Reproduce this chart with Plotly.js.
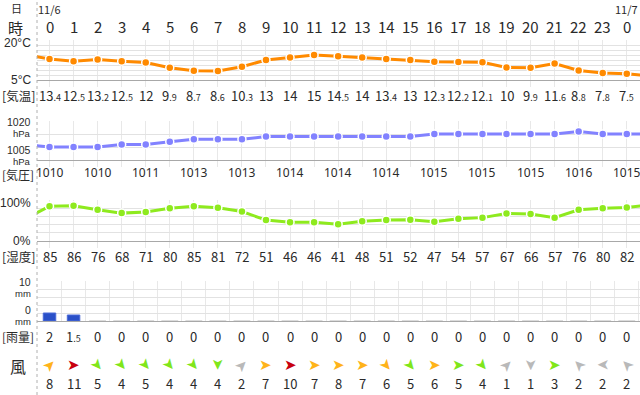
<!DOCTYPE html>
<html><head><meta charset="utf-8">
<script src="https://cdn.plot.ly/plotly-3.0.1.min.js"></script>
<style>html,body{margin:0;padding:0;background:#fff;}#c{width:640px;height:395px;}</style>
</head><body><div id="c"></div>
<script>
// ---- data ----
const hours = [0,1,2,3,4,5,6,7,8,9,10,11,12,13,14,15,16,17,18,19,20,21,22,23,24];
const hourLabels = ['0','1','2','3','4','5','6','7','8','9','10','11','12','13','14','15','16','17','18','19','20','21','22','23','0'];
const dateLabels = ['11/6','11/7'];
const dateHours = [0,24];
const temp = [13.4,12.5,13.2,12.5,12,9.9,8.7,8.6,10.3,13,14,15,14.5,14,13.4,13,12.3,12.2,12.1,10,9.9,11.6,8.8,7.8,7.5];
const tempBefore = 15.1, tempAfter = 6.6;
const pressure = [1010,1010,1010,1011,1011,1012,1013,1013,1013,1014,1014,1014,1014,1014,1014,1014,1015,1015,1015,1015,1015,1015,1016,1015,1015];
const pressureBefore = 1011, pressureAfter = 1015;
const pressureLabelHours = [0,2,4,6,8,10,12,14,16,18,20,22,24];
const pressureLabels = ['1010','1010','1011','1013','1013','1014','1014','1014','1015','1015','1015','1016','1015'];
const humidity = [85,86,76,68,71,80,85,81,72,51,46,46,41,48,51,52,47,54,57,67,66,57,76,80,82];
const humidityBefore = 54, humidityAfter = 88;
const rain = [2,1.5,0,0,0,0,0,0,0,0,0,0,0,0,0,0,0,0,0,0,0,0,0,0,0];
const windSpeed = [8,11,5,4,5,4,4,4,2,7,10,7,8,7,6,5,6,5,4,1,1,3,2,2,2];
const windDir = [45,90,140,140,140,140,140,180,45,90,90,90,90,90,140,140,90,90,140,45,180,90,315,270,315];

// ---- helpers ----
const W = 640, H = 395;
const px = x => x / W;
const py = y => 1 - y / H;
const dom = (top, bot) => [py(bot), py(top)];
const FONT = '"Noto Sans CJK JP", "Noto Sans", sans-serif';
const NUMFONT = '"Liberation Sans", Arial, sans-serif';
const TXT = '#2a2a2a';
function fmt(v){
  const s = String(v);
  if (s.indexOf('.') >= 0){ const p = s.split('.'); return p[0] + '<span style="font-size:9px">.' + p[1] + '</span>'; }
  return s;
}
function windColor(s){
  if (s >= 10) return '#c8000f';
  if (s >= 6) return '#ffb31a';
  if (s >= 3) return '#80e61a';
  return '#b9b9b9';
}
const extHours = [-1].concat(hours, [25]);

const traces = [
  {x: extHours, y: [tempBefore].concat(temp, [tempAfter]), xaxis:'x', yaxis:'y', mode:'lines+markers',
   line:{color:'#ff8a00', width:3}, marker:{size:8, color:'#ff8a00', line:{color:'#fff', width:1.5}}},
  {x: extHours, y: [pressureBefore].concat(pressure, [pressureAfter]), xaxis:'x2', yaxis:'y2', mode:'lines+markers',
   line:{color:'#8282ff', width:3}, marker:{size:8, color:'#8282ff', line:{color:'#fff', width:1.5}}},
  {x: extHours, y: [humidityBefore].concat(humidity, [humidityAfter]), xaxis:'x3', yaxis:'y3', mode:'lines+markers',
   line:{color:'#8eea1e', width:3}, marker:{size:8, color:'#8eea1e', line:{color:'#fff', width:1.5}}},
  {x: hours, y: rain, xaxis:'x4', yaxis:'y4', type:'bar', width:0.52,
   marker:{color:'#2a50c8', line:{color:'#4a6ad8', width:1}}},
  {x: hours.filter((h,i)=>rain[i]===0), y: rain.filter(r=>r===0), xaxis:'x4', yaxis:'y4', mode:'markers', cliponaxis:false,
   marker:{symbol:'line-ew', size:12, line:{color:'#dcdcdc', width:2}}}
];

const xbase = {range:[-0.52, 24.55], domain:[px(37), 1], showticklabels:false, showgrid:true, gridcolor:'#e8e8e8', gridwidth:1,
  tickmode:'linear', tick0:0, dtick:1, ticks:'outside', ticklen:6, tickcolor:'#e8e8e8', showline:true, linecolor:'#a8a8a8', linewidth:1.2, zeroline:false, fixedrange:true};
const ybase = {showticklabels:false, showgrid:true, gridcolor:'#e2e2e2', gridwidth:1, zeroline:false, ticks:'', fixedrange:true, showline:false};

const layout = {
  width: W, height: H, margin:{l:0,r:0,t:0,b:0}, paper_bgcolor:'#fff', plot_bgcolor:'#fff', showlegend:false,
  font:{family:FONT, color:TXT},
  xaxis: Object.assign({}, xbase, {anchor:'y'}),
  xaxis2: Object.assign({}, xbase, {anchor:'y2'}),
  xaxis3: Object.assign({}, xbase, {anchor:'y3'}),
  xaxis4: Object.assign({}, xbase, {anchor:'y4', tick0:0.5, ticklen:0}),
  yaxis: Object.assign({}, ybase, {domain: dom(40,80), range:[5,21], tick0:5, dtick:2}),
  yaxis2: Object.assign({}, ybase, {domain: dom(121,160), range:[1005,1020], tick0:1005, dtick:5}),
  yaxis3: Object.assign({}, ybase, {domain: dom(200,241), range:[0,100], tick0:0, dtick:20}),
  yaxis4: Object.assign({}, ybase, {domain: dom(281,321), range:[0,10], tick0:0, dtick:2}),
  shapes: [
    {type:'line', xref:'paper', yref:'paper', x0:px(37), x1:px(37), y0:0, y1:1, line:{color:'#b0b0b0', width:1, dash:'dot'}}
  ],
  annotations: []
};
const A = layout.annotations;
function lab(text, x, y, size, anchor, fam){
  A.push({text:text, xref:'paper', yref:'paper', x:px(x), y:py(y), xanchor:anchor||'center', yanchor:'middle', showarrow:false,
    font:{size:size, color:TXT, family:fam||FONT}});
}
// left labels
lab('日', 16, 8, 11);
lab('時', 15, 27, 15);
lab('20°C', 33, 43, 12, 'right', NUMFONT);
lab('5°C', 33, 80, 12, 'right', NUMFONT);
lab('[気温]', 18, 96, 12.5);
lab('1020', 33, 121.7, 10.5, 'right', NUMFONT);
lab('hPa', 33, 133.3, 9.5, 'right', NUMFONT);
lab('1005', 33, 150.3, 10.5, 'right', NUMFONT);
lab('hPa', 33, 161.2, 9.5, 'right', NUMFONT);
lab('[気圧]', 18, 174.5, 12);
lab('100%', 33, 203, 12, 'right', NUMFONT);
lab('0%', 33, 241, 12, 'right', NUMFONT);
lab('[湿度]', 18, 256, 12.5);
lab('10', 33, 282.3, 10.5, 'right', NUMFONT);
lab('mm', 33, 293.7, 9.5, 'right', NUMFONT);
lab('0', 33, 310.3, 10.5, 'right', NUMFONT);
lab('mm', 33, 321.5, 9.5, 'right', NUMFONT);
lab('[雨量]', 18, 336.5, 12);
lab('風', 18, 366, 16);

function row(xs, texts, y, size, fam){
  xs.forEach((h,i)=>A.push({text:texts[i], xref:'x', yref:'paper', x:h, y:py(y), xanchor:'center', yanchor:'middle', showarrow:false,
    font:{size:size, color:TXT, family:fam||FONT}}));
}
row(dateHours, dateLabels, 9, 11);
row(hours, hourLabels, 26, 15);
row(hours, temp.map(fmt), 96, 13);
row(pressureLabelHours, pressureLabels, 172, 12, '"Noto Sans", sans-serif');
row(hours, humidity.map(String), 256, 13);
row(hours, rain.map(fmt), 336, 13);
row(hours, windSpeed.map(String), 383.7, 13);
// wind arrowheads (glyph points right = 90deg; rotate to direction)
hours.forEach((h,i)=>A.push({text:'\u27A4', xref:'x', yref:'paper', x:h, y:py(365), xanchor:'center', yanchor:'middle', showarrow:false,
  textangle: windDir[i] - 90, font:{size:15, color:windColor(windSpeed[i]), family:'"DejaVu Sans", sans-serif'}}));

Plotly.newPlot('c', traces, layout, {staticPlot:true, displayModeBar:false});
</script></body></html>
